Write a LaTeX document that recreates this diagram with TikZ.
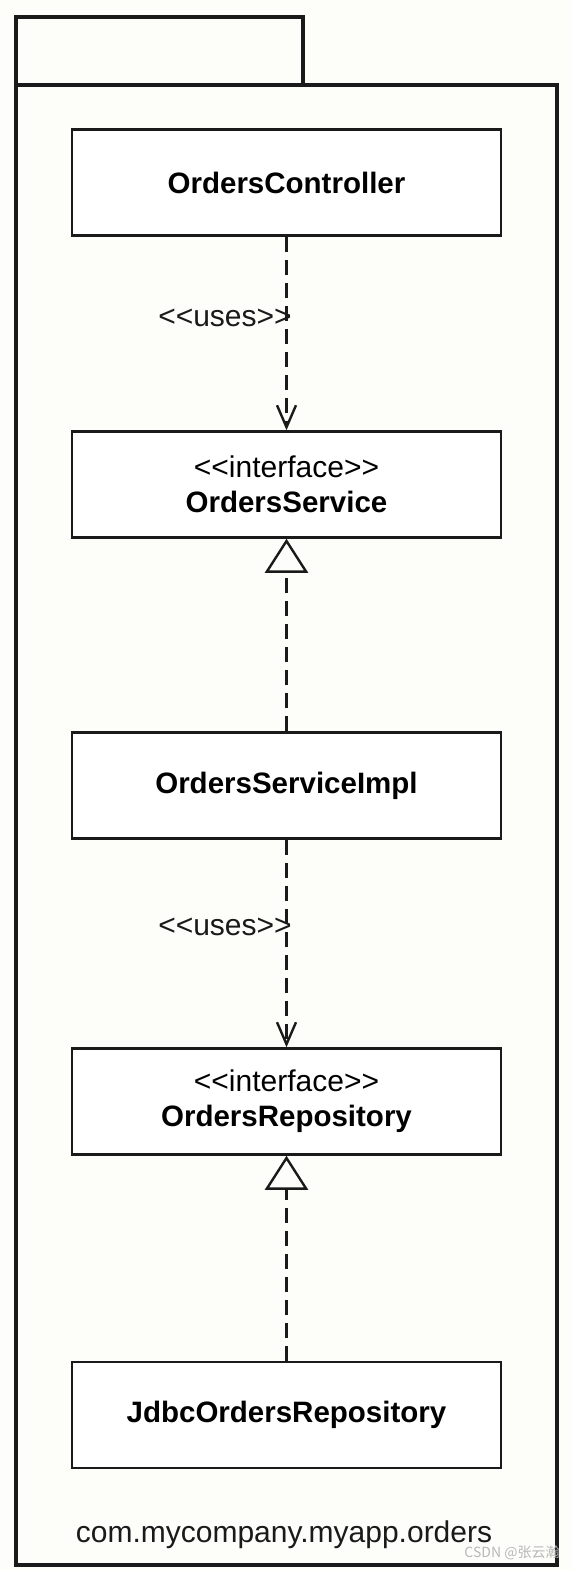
\documentclass[tikz,border=0pt]{standalone}
\usepackage{fontspec}
\setmainfont{Liberation Sans}
\newfontfamily\cjk{Noto Sans CJK SC}
\usetikzlibrary{arrows.meta}
\definecolor{bg}{HTML}{FDFDFA}
\definecolor{ink}{HTML}{1A1A1A}
\begin{document}
\begin{tikzpicture}[x=1pt,y=-1pt,
  pkgline/.style={line width=4pt, draw=ink, line join=miter},
  classbox/.style={draw=ink, line width=2.5pt, fill=white, minimum width=429pt, minimum height=106pt, inner sep=0pt, font=\fontsize{29.5}{35}\selectfont\bfseries, align=center},
  ifacebox/.style={classbox, font=\fontsize{30}{35}\selectfont},
  dep/.style={draw=ink, line width=2.4pt, dash pattern=on 15pt off 8pt, -{Straight Barb[length=22pt,width=19pt,line width=2.4pt]}},
  real/.style={draw=ink, line width=2.4pt, dash pattern=on 15pt off 8pt, -{Triangle[open,length=34pt,width=43pt,line width=2.4pt]}},
  stereo/.style={font=\fontsize{30}{34}\selectfont, text=ink, inner sep=0pt},
  pkgname/.style={font=\fontsize{30}{34}\selectfont, text=ink, inner sep=0pt},
  wmark/.style={font=\cjk\fontsize{14}{14}\selectfont, text=black!28, inner sep=0pt}
]
\useasboundingbox (0,0) rectangle (572,1570);
\fill[bg] (0,0) rectangle (572,1570);
% package tab and body
\draw[pkgline] (16,85) -- (16,17) -- (303,17) -- (303,85);
\draw[pkgline] (16,85) rectangle (557,1565);
% classes
\node[classbox] (oc) at (286.5,182.5) {OrdersController};
\node[ifacebox] (os) at (286.5,484.5) {<{}<interface>{}>\\\textbf{\fontsize{29.5}{35}\selectfont OrdersService}};
\node[classbox] (osi) at (286.5,785.5) {OrdersServiceImpl};
\node[ifacebox] (or) at (286.5,1101.5) {<{}<interface>{}>\\\textbf{\fontsize{29.5}{35}\selectfont OrdersRepository}};
\node[classbox] (jdbc) at (286.5,1415) {JdbcOrdersRepository};
% connectors
\draw[dep] (oc.south) -- (os.north);
\draw[real] (osi.north) -- (os.south);
\draw[dep] (osi.south) -- (or.north);
\draw[real] (jdbc.north) -- (or.south);
% labels
\node[stereo] (u1) at (225,318) {<{}<uses>{}>};
\node[stereo] (u2) at (225,927) {<{}<uses>{}>};
\node[pkgname] (pn) at (284,1535) {com.mycompany.myapp.orders};
\node[wmark] (wm) at (512,1553) {CSDN @张云瀚};
\end{tikzpicture}
\end{document}
